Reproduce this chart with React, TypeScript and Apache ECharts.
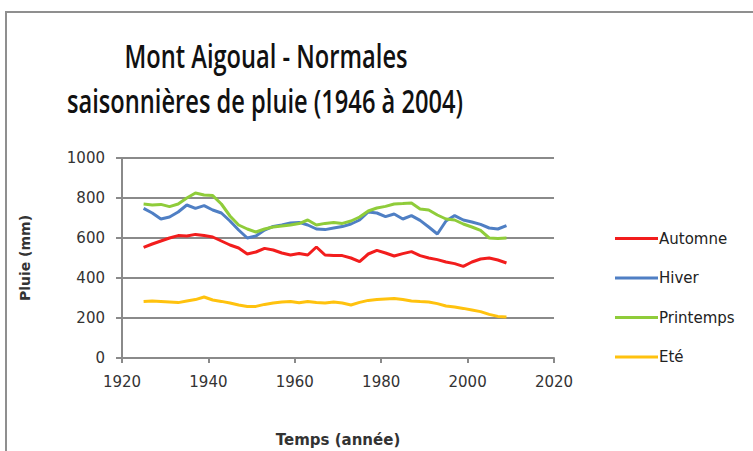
import React, { useEffect, useRef } from "react";
import * as echarts from "echarts";

const years = [
  1925, 1927, 1929, 1931, 1933, 1935, 1937, 1939, 1941, 1943, 1945, 1947, 1949, 1951,
  1953, 1955, 1957, 1959, 1961, 1963, 1965, 1967, 1969, 1971, 1973, 1975, 1977, 1979,
  1981, 1983, 1985, 1987, 1989, 1991, 1993, 1995, 1997, 1999, 2001, 2003, 2005, 2007, 2009,
];

const automne = [
  553, 570, 585, 600, 612, 610, 618, 612, 605, 585, 565, 550, 520, 530,
  548, 540, 525, 515, 522, 515, 555, 515, 512, 512, 500, 482, 520, 538,
  525, 510, 522, 532, 512, 500, 492, 480, 472, 458, 480, 495, 500, 490, 475,
];

const hiver = [
  748, 725, 695, 705, 730, 765, 748, 762, 740, 725, 685, 640, 600, 610,
  640, 658, 665, 675, 678, 665, 645, 642, 650, 657, 670, 690, 730, 725,
  707, 720, 695, 712, 688, 655, 620, 685, 712, 690, 680, 668, 650, 645, 662,
];

const printemps = [
  770, 765, 768, 757, 770, 800, 825, 815, 812, 770, 710, 665, 645, 630,
  645, 655, 660, 665, 672, 690, 665, 673, 678, 673, 685, 705, 735, 750,
  758, 770, 772, 775, 745, 740, 715, 695, 690, 670, 655, 638, 600, 598, 600,
];

const ete = [
  282, 285, 283, 280, 277, 285, 292, 305, 290, 283, 275, 265, 258, 258,
  268, 275, 280, 283, 276, 283, 278, 275, 280, 275, 265, 278, 288, 292,
  295, 298, 292, 285, 282, 280, 272, 260, 255, 248, 240, 232, 218, 208, 205,
];

const seriesNames = ["Automne", "Hiver", "Printemps", "Eté"];
const seriesValues = [automne, hiver, printemps, ete];
const seriesColors = ["#f21d1d", "#4f7fc4", "#8fcc3a", "#ffc20e"];

const titleLines = ["Mont Aigoual - Normales", "saisonnières de pluie (1946 à 2004)"];

export default function App() {
  const ref = useRef<HTMLDivElement>(null);

  useEffect(() => {
    if (!ref.current) return;
    const chart = echarts.init(ref.current, undefined, { renderer: "svg" });
    const axisGray = "#8a8a8a";
    const labelStyle = {
      fontFamily: "DejaVu Sans",
      fontSize: 15,
      color: "#333",
      formatter: (v: number) => String(v),
    };
    const titleStyle = {
      fontFamily: "Open Sans",
      fontWeight: 600,
      fontSize: 32,
      fill: "#111",
      align: "center",
      verticalAlign: "middle",
    };
    chart.setOption({
      animation: false,
      backgroundColor: "#ffffff",
      graphic: [
        {
          type: "rect",
          shape: { x: 6, y: 12, width: 800, height: 500 },
          style: { fill: "none", stroke: "#8f8f8f", lineWidth: 2 },
          silent: true,
        },
        {
          type: "text",
          x: 266,
          y: 55,
          scaleX: 0.74,
          style: { ...titleStyle, text: titleLines[0] },
        },
        {
          type: "text",
          x: 265,
          y: 100,
          scaleX: 0.74,
          style: { ...titleStyle, text: titleLines[1] },
        },
      ],
      legend: {
        orient: "vertical",
        left: 610,
        top: 226,
        itemWidth: 43,
        itemHeight: 3,
        itemGap: 24.5,
        icon: "rect",
        data: seriesNames,
        textStyle: { fontFamily: "DejaVu Sans", fontSize: 15, color: "#222", padding: [0, 0, 0, -4] },
      },
      grid: { left: 122, top: 158, width: 432, height: 200, containLabel: false },
      xAxis: {
        type: "value",
        min: 1920,
        max: 2020,
        interval: 20,
        name: "Temps (année)",
        nameLocation: "middle",
        nameGap: 74,
        nameTextStyle: { fontFamily: "DejaVu Sans", fontSize: 15, fontWeight: "bold", color: "#333" },
        axisLine: { show: true, lineStyle: { color: axisGray, width: 2 } },
        axisTick: { show: true, length: 5, lineStyle: { color: axisGray, width: 2 } },
        axisLabel: { ...labelStyle, margin: 16 },
        splitLine: { show: false },
      },
      yAxis: {
        type: "value",
        min: 0,
        max: 1000,
        interval: 200,
        name: "Pluie (mm)",
        nameLocation: "middle",
        nameGap: 90,
        nameRotate: 90,
        nameTextStyle: { fontFamily: "DejaVu Sans", fontSize: 14, fontWeight: "bold", color: "#333" },
        axisLine: { show: true, lineStyle: { color: axisGray, width: 2 } },
        axisTick: { show: true, length: 6, lineStyle: { color: axisGray, width: 2 } },
        axisLabel: { ...labelStyle, margin: 17 },
        splitLine: { show: true, lineStyle: { color: axisGray, width: 2 } },
      },
      series: seriesNames.map((name, i) => ({
        name,
        type: "line",
        showSymbol: false,
        symbol: "none",
        data: years.map((y, j) => [y, seriesValues[i][j]]),
        lineStyle: { color: seriesColors[i], width: 3 },
        itemStyle: { color: seriesColors[i] },
      })),
    });
    return () => chart.dispose();
  }, []);

  return (
    <div
      ref={ref}
      style={{ position: "fixed", left: 0, top: 0, width: 753, height: 451 }}
    />
  );
}
